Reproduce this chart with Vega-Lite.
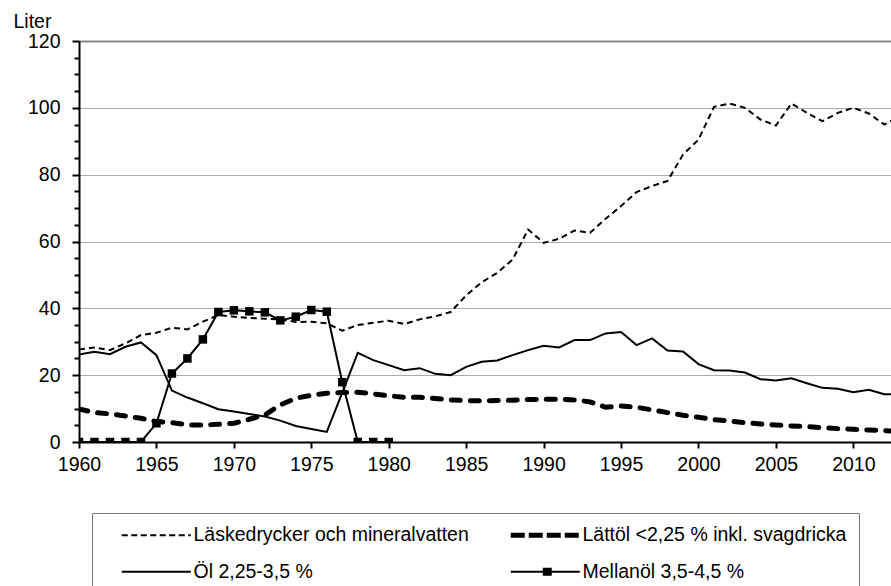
{
  "$schema": "https://vega.github.io/schema/vega-lite/v6.json",
  "autosize": "none",
  "padding": {"left": 79, "top": 41, "right": 0, "bottom": 144},
  "width": 812,
  "height": 401,
  "background": "white",
  "config": {
    "view": {"stroke": null},
    "font": "Liberation Sans",
    "axis": {"labelFont": "Liberation Sans", "labelFontSize": 19.5, "labelColor": "black", "titleFont": "Liberation Sans", "titleColor": "black"}
  },
  "data": {"values": [
    {"series": "Läskedrycker och mineralvatten", "year": 1960, "value": 27.7},
    {"series": "Läskedrycker och mineralvatten", "year": 1961, "value": 28.3},
    {"series": "Läskedrycker och mineralvatten", "year": 1962, "value": 27.5},
    {"series": "Läskedrycker och mineralvatten", "year": 1963, "value": 29.5},
    {"series": "Läskedrycker och mineralvatten", "year": 1964, "value": 32.0},
    {"series": "Läskedrycker och mineralvatten", "year": 1965, "value": 32.7},
    {"series": "Läskedrycker och mineralvatten", "year": 1966, "value": 34.2},
    {"series": "Läskedrycker och mineralvatten", "year": 1967, "value": 33.7},
    {"series": "Läskedrycker och mineralvatten", "year": 1968, "value": 36.0},
    {"series": "Läskedrycker och mineralvatten", "year": 1969, "value": 38.0},
    {"series": "Läskedrycker och mineralvatten", "year": 1970, "value": 37.5},
    {"series": "Läskedrycker och mineralvatten", "year": 1971, "value": 37.1},
    {"series": "Läskedrycker och mineralvatten", "year": 1972, "value": 36.9},
    {"series": "Läskedrycker och mineralvatten", "year": 1973, "value": 36.7},
    {"series": "Läskedrycker och mineralvatten", "year": 1974, "value": 35.9},
    {"series": "Läskedrycker och mineralvatten", "year": 1975, "value": 36.0},
    {"series": "Läskedrycker och mineralvatten", "year": 1976, "value": 35.5},
    {"series": "Läskedrycker och mineralvatten", "year": 1977, "value": 33.3},
    {"series": "Läskedrycker och mineralvatten", "year": 1978, "value": 35.0},
    {"series": "Läskedrycker och mineralvatten", "year": 1979, "value": 35.7},
    {"series": "Läskedrycker och mineralvatten", "year": 1980, "value": 36.3},
    {"series": "Läskedrycker och mineralvatten", "year": 1981, "value": 35.3},
    {"series": "Läskedrycker och mineralvatten", "year": 1982, "value": 36.7},
    {"series": "Läskedrycker och mineralvatten", "year": 1983, "value": 37.6},
    {"series": "Läskedrycker och mineralvatten", "year": 1984, "value": 38.9},
    {"series": "Läskedrycker och mineralvatten", "year": 1985, "value": 43.9},
    {"series": "Läskedrycker och mineralvatten", "year": 1986, "value": 47.8},
    {"series": "Läskedrycker och mineralvatten", "year": 1987, "value": 50.6},
    {"series": "Läskedrycker och mineralvatten", "year": 1988, "value": 54.6},
    {"series": "Läskedrycker och mineralvatten", "year": 1989, "value": 63.6},
    {"series": "Läskedrycker och mineralvatten", "year": 1990, "value": 59.6},
    {"series": "Läskedrycker och mineralvatten", "year": 1991, "value": 60.8},
    {"series": "Läskedrycker och mineralvatten", "year": 1992, "value": 63.3},
    {"series": "Läskedrycker och mineralvatten", "year": 1993, "value": 62.6},
    {"series": "Läskedrycker och mineralvatten", "year": 1994, "value": 66.8},
    {"series": "Läskedrycker och mineralvatten", "year": 1995, "value": 70.6},
    {"series": "Läskedrycker och mineralvatten", "year": 1996, "value": 74.8},
    {"series": "Läskedrycker och mineralvatten", "year": 1997, "value": 76.6},
    {"series": "Läskedrycker och mineralvatten", "year": 1998, "value": 78.1},
    {"series": "Läskedrycker och mineralvatten", "year": 1999, "value": 86.0},
    {"series": "Läskedrycker och mineralvatten", "year": 2000, "value": 90.5},
    {"series": "Läskedrycker och mineralvatten", "year": 2001, "value": 100.3},
    {"series": "Läskedrycker och mineralvatten", "year": 2002, "value": 101.3},
    {"series": "Läskedrycker och mineralvatten", "year": 2003, "value": 100.0},
    {"series": "Läskedrycker och mineralvatten", "year": 2004, "value": 96.5},
    {"series": "Läskedrycker och mineralvatten", "year": 2005, "value": 94.7},
    {"series": "Läskedrycker och mineralvatten", "year": 2006, "value": 101.3},
    {"series": "Läskedrycker och mineralvatten", "year": 2007, "value": 98.5},
    {"series": "Läskedrycker och mineralvatten", "year": 2008, "value": 96.0},
    {"series": "Läskedrycker och mineralvatten", "year": 2009, "value": 98.5},
    {"series": "Läskedrycker och mineralvatten", "year": 2010, "value": 100.0},
    {"series": "Läskedrycker och mineralvatten", "year": 2011, "value": 98.3},
    {"series": "Läskedrycker och mineralvatten", "year": 2012, "value": 95.0},
    {"series": "Läskedrycker och mineralvatten", "year": 2013, "value": 97.5},

    {"series": "Lättöl <2,25 % inkl. svagdricka", "year": 1960, "value": 9.9},
    {"series": "Lättöl <2,25 % inkl. svagdricka", "year": 1961, "value": 8.8},
    {"series": "Lättöl <2,25 % inkl. svagdricka", "year": 1962, "value": 8.4},
    {"series": "Lättöl <2,25 % inkl. svagdricka", "year": 1963, "value": 7.8},
    {"series": "Lättöl <2,25 % inkl. svagdricka", "year": 1964, "value": 7.1},
    {"series": "Lättöl <2,25 % inkl. svagdricka", "year": 1965, "value": 6.1},
    {"series": "Lättöl <2,25 % inkl. svagdricka", "year": 1966, "value": 5.8},
    {"series": "Lättöl <2,25 % inkl. svagdricka", "year": 1967, "value": 5.1},
    {"series": "Lättöl <2,25 % inkl. svagdricka", "year": 1968, "value": 5.1},
    {"series": "Lättöl <2,25 % inkl. svagdricka", "year": 1969, "value": 5.3},
    {"series": "Lättöl <2,25 % inkl. svagdricka", "year": 1970, "value": 5.6},
    {"series": "Lättöl <2,25 % inkl. svagdricka", "year": 1971, "value": 6.8},
    {"series": "Lättöl <2,25 % inkl. svagdricka", "year": 1972, "value": 8.1},
    {"series": "Lättöl <2,25 % inkl. svagdricka", "year": 1973, "value": 11.1},
    {"series": "Lättöl <2,25 % inkl. svagdricka", "year": 1974, "value": 13.1},
    {"series": "Lättöl <2,25 % inkl. svagdricka", "year": 1975, "value": 14.0},
    {"series": "Lättöl <2,25 % inkl. svagdricka", "year": 1976, "value": 14.6},
    {"series": "Lättöl <2,25 % inkl. svagdricka", "year": 1977, "value": 14.8},
    {"series": "Lättöl <2,25 % inkl. svagdricka", "year": 1978, "value": 14.9},
    {"series": "Lättöl <2,25 % inkl. svagdricka", "year": 1979, "value": 14.4},
    {"series": "Lättöl <2,25 % inkl. svagdricka", "year": 1980, "value": 13.8},
    {"series": "Lättöl <2,25 % inkl. svagdricka", "year": 1981, "value": 13.4},
    {"series": "Lättöl <2,25 % inkl. svagdricka", "year": 1982, "value": 13.4},
    {"series": "Lättöl <2,25 % inkl. svagdricka", "year": 1983, "value": 13.0},
    {"series": "Lättöl <2,25 % inkl. svagdricka", "year": 1984, "value": 12.6},
    {"series": "Lättöl <2,25 % inkl. svagdricka", "year": 1985, "value": 12.4},
    {"series": "Lättöl <2,25 % inkl. svagdricka", "year": 1986, "value": 12.3},
    {"series": "Lättöl <2,25 % inkl. svagdricka", "year": 1987, "value": 12.4},
    {"series": "Lättöl <2,25 % inkl. svagdricka", "year": 1988, "value": 12.5},
    {"series": "Lättöl <2,25 % inkl. svagdricka", "year": 1989, "value": 12.7},
    {"series": "Lättöl <2,25 % inkl. svagdricka", "year": 1990, "value": 12.8},
    {"series": "Lättöl <2,25 % inkl. svagdricka", "year": 1991, "value": 12.8},
    {"series": "Lättöl <2,25 % inkl. svagdricka", "year": 1992, "value": 12.6},
    {"series": "Lättöl <2,25 % inkl. svagdricka", "year": 1993, "value": 12.0},
    {"series": "Lättöl <2,25 % inkl. svagdricka", "year": 1994, "value": 10.4},
    {"series": "Lättöl <2,25 % inkl. svagdricka", "year": 1995, "value": 10.8},
    {"series": "Lättöl <2,25 % inkl. svagdricka", "year": 1996, "value": 10.4},
    {"series": "Lättöl <2,25 % inkl. svagdricka", "year": 1997, "value": 9.6},
    {"series": "Lättöl <2,25 % inkl. svagdricka", "year": 1998, "value": 8.8},
    {"series": "Lättöl <2,25 % inkl. svagdricka", "year": 1999, "value": 8.0},
    {"series": "Lättöl <2,25 % inkl. svagdricka", "year": 2000, "value": 7.4},
    {"series": "Lättöl <2,25 % inkl. svagdricka", "year": 2001, "value": 6.7},
    {"series": "Lättöl <2,25 % inkl. svagdricka", "year": 2002, "value": 6.3},
    {"series": "Lättöl <2,25 % inkl. svagdricka", "year": 2003, "value": 5.8},
    {"series": "Lättöl <2,25 % inkl. svagdricka", "year": 2004, "value": 5.4},
    {"series": "Lättöl <2,25 % inkl. svagdricka", "year": 2005, "value": 5.1},
    {"series": "Lättöl <2,25 % inkl. svagdricka", "year": 2006, "value": 4.8},
    {"series": "Lättöl <2,25 % inkl. svagdricka", "year": 2007, "value": 4.6},
    {"series": "Lättöl <2,25 % inkl. svagdricka", "year": 2008, "value": 4.3},
    {"series": "Lättöl <2,25 % inkl. svagdricka", "year": 2009, "value": 4.0},
    {"series": "Lättöl <2,25 % inkl. svagdricka", "year": 2010, "value": 3.8},
    {"series": "Lättöl <2,25 % inkl. svagdricka", "year": 2011, "value": 3.6},
    {"series": "Lättöl <2,25 % inkl. svagdricka", "year": 2012, "value": 3.4},
    {"series": "Lättöl <2,25 % inkl. svagdricka", "year": 2013, "value": 3.2},

    {"series": "Öl 2,25-3,5 %", "year": 1960, "value": 26.2},
    {"series": "Öl 2,25-3,5 %", "year": 1961, "value": 27.0},
    {"series": "Öl 2,25-3,5 %", "year": 1962, "value": 26.3},
    {"series": "Öl 2,25-3,5 %", "year": 1963, "value": 28.5},
    {"series": "Öl 2,25-3,5 %", "year": 1964, "value": 29.8},
    {"series": "Öl 2,25-3,5 %", "year": 1965, "value": 26.0},
    {"series": "Öl 2,25-3,5 %", "year": 1966, "value": 15.4},
    {"series": "Öl 2,25-3,5 %", "year": 1967, "value": 13.3},
    {"series": "Öl 2,25-3,5 %", "year": 1968, "value": 11.6},
    {"series": "Öl 2,25-3,5 %", "year": 1969, "value": 9.8},
    {"series": "Öl 2,25-3,5 %", "year": 1970, "value": 9.1},
    {"series": "Öl 2,25-3,5 %", "year": 1971, "value": 8.4},
    {"series": "Öl 2,25-3,5 %", "year": 1972, "value": 7.6},
    {"series": "Öl 2,25-3,5 %", "year": 1973, "value": 6.4},
    {"series": "Öl 2,25-3,5 %", "year": 1974, "value": 4.8},
    {"series": "Öl 2,25-3,5 %", "year": 1975, "value": 3.9},
    {"series": "Öl 2,25-3,5 %", "year": 1976, "value": 3.0},
    {"series": "Öl 2,25-3,5 %", "year": 1977, "value": 14.8},
    {"series": "Öl 2,25-3,5 %", "year": 1978, "value": 26.7},
    {"series": "Öl 2,25-3,5 %", "year": 1979, "value": 24.5},
    {"series": "Öl 2,25-3,5 %", "year": 1980, "value": 23.0},
    {"series": "Öl 2,25-3,5 %", "year": 1981, "value": 21.5},
    {"series": "Öl 2,25-3,5 %", "year": 1982, "value": 22.1},
    {"series": "Öl 2,25-3,5 %", "year": 1983, "value": 20.4},
    {"series": "Öl 2,25-3,5 %", "year": 1984, "value": 20.0},
    {"series": "Öl 2,25-3,5 %", "year": 1985, "value": 22.5},
    {"series": "Öl 2,25-3,5 %", "year": 1986, "value": 24.0},
    {"series": "Öl 2,25-3,5 %", "year": 1987, "value": 24.4},
    {"series": "Öl 2,25-3,5 %", "year": 1988, "value": 26.0},
    {"series": "Öl 2,25-3,5 %", "year": 1989, "value": 27.5},
    {"series": "Öl 2,25-3,5 %", "year": 1990, "value": 28.8},
    {"series": "Öl 2,25-3,5 %", "year": 1991, "value": 28.3},
    {"series": "Öl 2,25-3,5 %", "year": 1992, "value": 30.5},
    {"series": "Öl 2,25-3,5 %", "year": 1993, "value": 30.5},
    {"series": "Öl 2,25-3,5 %", "year": 1994, "value": 32.5},
    {"series": "Öl 2,25-3,5 %", "year": 1995, "value": 32.9},
    {"series": "Öl 2,25-3,5 %", "year": 1996, "value": 29.0},
    {"series": "Öl 2,25-3,5 %", "year": 1997, "value": 31.0},
    {"series": "Öl 2,25-3,5 %", "year": 1998, "value": 27.4},
    {"series": "Öl 2,25-3,5 %", "year": 1999, "value": 27.1},
    {"series": "Öl 2,25-3,5 %", "year": 2000, "value": 23.3},
    {"series": "Öl 2,25-3,5 %", "year": 2001, "value": 21.5},
    {"series": "Öl 2,25-3,5 %", "year": 2002, "value": 21.4},
    {"series": "Öl 2,25-3,5 %", "year": 2003, "value": 20.8},
    {"series": "Öl 2,25-3,5 %", "year": 2004, "value": 18.8},
    {"series": "Öl 2,25-3,5 %", "year": 2005, "value": 18.4},
    {"series": "Öl 2,25-3,5 %", "year": 2006, "value": 19.1},
    {"series": "Öl 2,25-3,5 %", "year": 2007, "value": 17.6},
    {"series": "Öl 2,25-3,5 %", "year": 2008, "value": 16.2},
    {"series": "Öl 2,25-3,5 %", "year": 2009, "value": 15.9},
    {"series": "Öl 2,25-3,5 %", "year": 2010, "value": 14.9},
    {"series": "Öl 2,25-3,5 %", "year": 2011, "value": 15.6},
    {"series": "Öl 2,25-3,5 %", "year": 2012, "value": 14.3},
    {"series": "Öl 2,25-3,5 %", "year": 2013, "value": 14.2},

    {"series": "Mellanöl 3,5-4,5 %", "year": 1960, "value": 0},
    {"series": "Mellanöl 3,5-4,5 %", "year": 1961, "value": 0},
    {"series": "Mellanöl 3,5-4,5 %", "year": 1962, "value": 0},
    {"series": "Mellanöl 3,5-4,5 %", "year": 1963, "value": 0},
    {"series": "Mellanöl 3,5-4,5 %", "year": 1964, "value": 0},
    {"series": "Mellanöl 3,5-4,5 %", "year": 1965, "value": 5.6},
    {"series": "Mellanöl 3,5-4,5 %", "year": 1966, "value": 20.5},
    {"series": "Mellanöl 3,5-4,5 %", "year": 1967, "value": 25.0},
    {"series": "Mellanöl 3,5-4,5 %", "year": 1968, "value": 30.7},
    {"series": "Mellanöl 3,5-4,5 %", "year": 1969, "value": 38.9},
    {"series": "Mellanöl 3,5-4,5 %", "year": 1970, "value": 39.4},
    {"series": "Mellanöl 3,5-4,5 %", "year": 1971, "value": 39.1},
    {"series": "Mellanöl 3,5-4,5 %", "year": 1972, "value": 38.8},
    {"series": "Mellanöl 3,5-4,5 %", "year": 1973, "value": 36.4},
    {"series": "Mellanöl 3,5-4,5 %", "year": 1974, "value": 37.5},
    {"series": "Mellanöl 3,5-4,5 %", "year": 1975, "value": 39.5},
    {"series": "Mellanöl 3,5-4,5 %", "year": 1976, "value": 39.0},
    {"series": "Mellanöl 3,5-4,5 %", "year": 1977, "value": 17.9},
    {"series": "Mellanöl 3,5-4,5 %", "year": 1978, "value": 0},
    {"series": "Mellanöl 3,5-4,5 %", "year": 1979, "value": 0},
    {"series": "Mellanöl 3,5-4,5 %", "year": 1980, "value": 0}
  ]},
  "encoding": {
    "x": {
      "field": "year", "type": "quantitative",
      "scale": {"domain": [1960, 2012.43], "nice": false, "zero": false},
      "axis": {
        "title": null, "values": [1960, 1965, 1970, 1975, 1980, 1985, 1990, 1995, 2000, 2005, 2010],
        "format": "d", "grid": false, "domainColor": "black", "domainWidth": 2,
        "tickColor": "black", "tickWidth": 2, "tickSize": 6, "labelPadding": 7,
        "labelFlush": false, "labelOverlap": false
      }
    },
    "y": {
      "field": "value", "type": "quantitative",
      "scale": {"domain": [0, 120], "nice": false},
      "axis": {
        "title": "Liter", "titleAngle": 0, "titleAlign": "left", "titleBaseline": "alphabetic",
        "titleX": -66, "titleY": -14, "titleFontSize": 19.5, "titleFontWeight": "normal",
        "values": [0, 5, 10, 15, 20, 25, 30, 35, 40, 45, 50, 55, 60, 65, 70, 75, 80, 85, 90, 95, 100, 105, 110, 115, 120],
        "labelExpr": "datum.value % 20 == 0 ? datum.label : ''",
        "labelPadding": 12, "labelOverlap": false, "labelFlush": false,
        "domainColor": "black", "domainWidth": 2,
        "tickColor": "black", "tickWidth": 2,
        "tickSize": {"condition": {"test": "datum.value % 20 == 0", "value": 7}, "value": 5},
        "grid": true,
        "gridOpacity": {"condition": {"test": "datum.value % 20 == 0 && datum.value > 0", "value": 1}, "value": 0},
        "gridColor": {"condition": {"test": "datum.value == 120", "value": "#888888"}, "value": "#555555"},
        "gridWidth": {"condition": {"test": "datum.value == 120", "value": 2}, "value": 1},
        "gridDash": {"condition": {"test": "datum.value == 120", "value": []}, "value": [1, 1]}
      }
    }
  },
  "layer": [
    {
      "transform": [{"filter": "datum.series === 'Läskedrycker och mineralvatten'"}],
      "mark": {"type": "line", "color": "black", "strokeWidth": 2, "strokeDash": [6, 4], "clip": true}
    },
    {
      "transform": [{"filter": "datum.series === 'Öl 2,25-3,5 %' || datum.series === 'Mellanöl 3,5-4,5 %'"}],
      "mark": {"type": "line", "color": "black", "strokeWidth": 2, "clip": true},
      "encoding": {"detail": {"field": "series"}}
    },
    {
      "transform": [{"filter": "datum.series === 'Lättöl <2,25 % inkl. svagdricka'"}],
      "mark": {"type": "line", "color": "black", "strokeWidth": 5, "strokeDash": [9, 10], "strokeCap": "round", "clip": true}
    },
    {
      "transform": [{"filter": "datum.series === 'Mellanöl 3,5-4,5 %'"}],
      "mark": {"type": "point", "shape": "square", "filled": true, "color": "black", "size": 72, "opacity": 1, "clip": true}
    },
    {
      "transform": [{"filter": "false"}],
      "mark": {"type": "point", "filled": false, "color": "black", "opacity": 1, "size": 100, "strokeWidth": 2, "clip": true},
      "encoding": {
        "shape": {
          "field": "series", "type": "nominal",
          "scale": {
            "domain": ["Läskedrycker och mineralvatten", "Lättöl <2,25 % inkl. svagdricka", "Öl 2,25-3,5 %", "Mellanöl 3,5-4,5 %"],
            "range": ["M-1,0H12.8", "M-1,-0.3H12.8M-1,0H12.8M-1,0.3H12.8", "M-1,0H12.8", "M-1,0H12.8M5.4,-0.6H7.2M5.4,-0.2H7.2M5.4,0.2H7.2M5.4,0.6H7.2"]
          },
          "legend": {
            "title": null, "orient": "none", "legendX": 13, "legendY": 472, "direction": "horizontal", "columns": 2,
            "strokeColor": "#777777", "padding": 12, "symbolOffset": 13, "symbolSize": 100,
            "symbolStrokeColor": "black", "symbolFillColor": "transparent", "symbolOpacity": 1, "symbolStrokeWidth": 2,
            "labelFont": "Liberation Sans", "labelFontSize": 19.5, "labelColor": "black",
            "labelOffset": 57, "labelLimit": 500, "columnPadding": 24, "rowPadding": 16
          }
        },
        "strokeDash": {
          "field": "series", "type": "nominal",
          "scale": {
            "domain": ["Läskedrycker och mineralvatten", "Lättöl <2,25 % inkl. svagdricka", "Öl 2,25-3,5 %", "Mellanöl 3,5-4,5 %"],
            "range": [[6, 3.5], [14, 4], [1, 0], [1, 0]]
          }
        }
      }
    }
  ]
}
